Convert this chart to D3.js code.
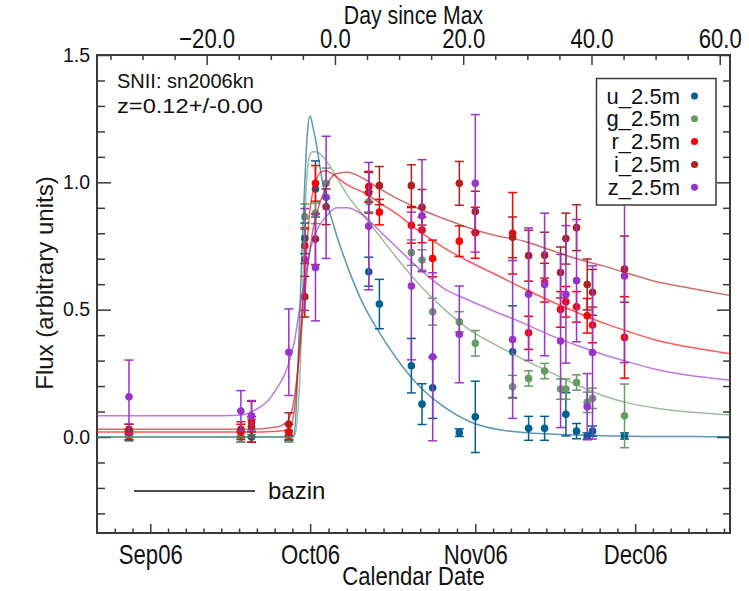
<!DOCTYPE html>
<html>
<head>
<meta charset="utf-8">
<script src="https://cdn.jsdelivr.net/npm/d3@7"></script>
<style>
  html, body { margin: 0; padding: 0; background: #ffffff; }
  svg { display: block; }
</style>
</head>
<body>
<svg id="chart" width="749" height="591"></svg>
<script>
// ---- observations (calendar date of each epoch) ----
const obsDates = ["2006-08-28","2006-09-18","2006-09-20","2006-09-27","2006-09-30","2006-10-02",
  "2006-10-04","2006-10-12","2006-10-14","2006-10-20","2006-10-22","2006-10-24","2006-10-29",
  "2006-11-01","2006-11-08","2006-11-11","2006-11-14","2006-11-17","2006-11-18","2006-11-20",
  "2006-11-22","2006-11-23","2006-11-29"];

const uFlux = [0.005,0.0,0.0,0.005,0.78,0.974,null,0.649,0.522,0.28,0.129,0.193,0.017,0.079,0.335,0.034,0.034,null,0.089,0.023,0.004,0.023,0.004];
const uErr  = [0.02,0.02,0.02,0.02,0.06,0.11,null,0.057,0.097,0.107,0.08,0.12,0.015,0.14,0.18,0.047,0.047,null,0.085,0.03,0.012,0.02,0.012];
const gFlux = [0.01,0.0,0.04,0.0,0.865,0.878,0.996,0.924,null,0.724,0.695,0.492,0.452,0.368,0.197,0.23,0.259,0.188,0.188,0.214,0.136,0.152,0.083];
const gErr  = [0.02,0.02,0.03,0.02,0.05,0.04,0.06,0.04,null,0.05,0.04,0.053,0.04,0.05,0.045,0.03,0.03,0.04,0.04,0.03,0.04,0.04,0.125];
const rFlux = [0.02,0.02,0.06,0.02,0.751,0.996,null,0.983,0.883,0.831,0.813,0.701,0.769,0.802,0.80,0.409,0.606,0.501,0.531,0.511,0.476,0.44,0.391];
const rErr  = [0.03,0.03,0.08,0.03,0.07,0.07,null,0.06,0.05,0.07,0.05,0.072,0.06,0.1,0.16,0.065,0.076,0.07,0.06,0.06,0.068,0.07,0.16];
const iFlux = [0.03,0.03,0.04,0.05,0.551,0.777,0.904,0.959,0.987,0.987,0.902,null,0.996,0.885,0.784,0.712,0.714,0.646,0.779,0.822,0.599,0.568,0.659];
const iErr  = [0.02,0.03,0.04,0.045,0.08,0.1,0.07,0.08,0.075,0.082,0.07,null,0.086,0.08,0.08,0.1,0.09,0.1,0.1,0.09,0.1,0.09,0.13];
const zFlux = [0.158,0.102,0.083,0.333,0.697,0.666,0.941,0.828,null,0.593,0.869,0.315,0.403,0.996,0.383,0.561,0.599,0.377,0.56,0.614,0.119,0.332,0.632];
const zErr  = [0.144,0.08,0.06,0.17,0.2,0.21,0.24,0.25,null,0.29,0.22,0.33,0.19,0.27,0.31,0.26,0.28,0.34,0.27,0.24,0.13,0.34,0.34];

// ---- bazin fit curves, sampled in days since 2006-09-01 ----
const fitDays = [-10,0,10,17,20,22,24,25,26,27,28,28.5,29,29.5,30,30.5,31,32,33,34,35,37,40,43,46,50,55,60,65,70,75,80,85,90,95,100,105,109];
const uFit = [0,0,0,0,0,0,0,0,0,0.01,0.45,0.75,1.0,1.2,1.26,1.22,1.17,1.04,0.93,0.86,0.79,0.67,0.52,0.41,0.315,0.21,0.12,0.06,0.03,0.018,0.012,0.008,0.005,0.003,0.002,0.002,0.001,0.001];
const gFit = [0,0,0,0,0,0,0,0,0,0.0,0.2,0.5,0.85,1.05,1.11,1.12,1.12,1.11,1.085,1.055,1.02,0.95,0.87,0.79,0.71,0.61,0.505,0.42,0.36,0.305,0.255,0.205,0.162,0.132,0.113,0.1,0.092,0.086];
const rFit = [0.02,0.02,0.02,0.02,0.02,0.021,0.023,0.025,0.03,0.1,0.35,0.5,0.65,0.78,0.9,0.96,1.0,1.04,1.045,1.035,1.02,0.99,0.96,0.92,0.88,0.815,0.745,0.687,0.636,0.584,0.535,0.49,0.448,0.412,0.38,0.357,0.34,0.326];
const iFit = [0.03,0.03,0.03,0.03,0.031,0.035,0.04,0.05,0.07,0.15,0.33,0.45,0.56,0.66,0.74,0.81,0.86,0.93,0.98,1.02,1.035,1.04,1.015,0.975,0.94,0.9,0.858,0.82,0.79,0.77,0.735,0.70,0.672,0.64,0.61,0.59,0.57,0.555];
const zFit = [0.083,0.083,0.083,0.085,0.11,0.14,0.2,0.236,0.29,0.37,0.5,0.56,0.62,0.68,0.734,0.77,0.8,0.84,0.865,0.89,0.9,0.9,0.87,0.81,0.75,0.67,0.585,0.535,0.49,0.447,0.4,0.36,0.324,0.293,0.265,0.245,0.232,0.223];

// ---- bands, axis ticks and labels ----
const bandNames  = ["u_2.5m","g_2.5m","r_2.5m","i_2.5m","z_2.5m"];
const bandColors = ["#00608f","#679a67","#ff0000","#b02020","#9933cc"];
const monthTicks = ["2006-09-01","2006-10-01","2006-11-01","2006-12-01"];
const monthLabels = ["Sep06","Oct06","Nov06","Dec06"];
const phaseTicks = [-20,0,20,40,60];
const fluxTicks = [0.0,0.5,1.0,1.5];
const infoLines = ["SNII: sn2006kn","z=0.12+/-0.00"];

const bands = [
  {flux:uFlux, err:uErr, fit:uFit},
  {flux:gFlux, err:gErr, fit:gFit},
  {flux:rFlux, err:rErr, fit:rFit},
  {flux:iFlux, err:iErr, fit:iFit},
  {flux:zFlux, err:zErr, fit:zFit}
];

const parse = d3.utcParse("%Y-%m-%d");
const DAY = 864e5;
const sep1 = parse("2006-09-01");
const fromDay = d => new Date(sep1.getTime() + d * DAY);

const P = {left: 97, right: 730, top: 55, bottom: 533};
const AXIS = "#3a3a3a";
const REG = "'Liberation Sans', Arial, sans-serif";
const CONDENSE = "scale(0.82,1)";   // narrow face for the date / phase axes

const x = d3.scaleUtc().domain([fromDay(-10.0), fromDay(108.8)]).range([P.left, P.right]);
const xPhase = d3.scaleLinear().domain([-37.1, 61.6]).range([P.left, P.right]);
const y = d3.scaleLinear().domain([-0.377, 1.5]).range([P.bottom, P.top]);

const svg = d3.select("#chart");

// plot-area clip
svg.append("defs").append("clipPath").attr("id", "plotclip")
  .append("rect").attr("x", P.left).attr("y", P.top)
  .attr("width", P.right - P.left).attr("height", P.bottom - P.top);

// ---- axes ----
function styleAxis(g, fontSize, narrow) {
  g.select(".domain").remove();
  g.selectAll(".tick line").attr("stroke", AXIS).attr("stroke-width", 1.5);
  const t = g.selectAll(".tick text").attr("fill", "#111").attr("font-family", REG).attr("font-size", fontSize);
  if (narrow) t.attr("transform", CONDENSE);
}

// bottom: month ticks with labels, minor ticks dividing each month into nine
const monthDates = monthTicks.map(parse);
const minorDates = [];
const step0 = (monthDates[1] - monthDates[0]) / 9;
for (let k = 1; k <= 3; k++) minorDates.push(new Date(monthDates[0].getTime() - k * step0));
for (let m = 0; m < monthDates.length - 1; m++) {
  const st = (monthDates[m + 1] - monthDates[m]) / 9;
  for (let k = 1; k < 9; k++) minorDates.push(new Date(monthDates[m].getTime() + k * st));
}
const stepN = (monthDates[3] - monthDates[2]) / 9;
for (let k = 1; k <= 6; k++) minorDates.push(new Date(monthDates[3].getTime() + k * stepN));
const minorIn = minorDates.filter(d => x(d) > P.left + 1 && x(d) < P.right - 1);

svg.append("g").attr("transform", `translate(0,${P.bottom})`)
  .call(d3.axisBottom(x).tickValues(minorIn).tickSize(-4.5).tickFormat(""))
  .call(g => styleAxis(g, 27, true));
svg.append("g").attr("transform", `translate(0,${P.bottom})`)
  .call(d3.axisBottom(x).tickValues(monthDates).tickSize(-9).tickPadding(12)
        .tickFormat((d, i) => monthLabels[i]))
  .call(g => styleAxis(g, 27, true));

// top: phase axis
const phaseMinor = d3.range(-35, 61, 5).filter(v => v % 20 !== 0);
svg.append("g").attr("transform", `translate(0,${P.top})`)
  .call(d3.axisTop(xPhase).tickValues(phaseMinor).tickSize(-5).tickFormat(""))
  .call(g => styleAxis(g, 27, true));
svg.append("g").attr("transform", `translate(0,${P.top})`)
  .call(d3.axisTop(xPhase).tickValues(phaseTicks).tickSize(-10).tickPadding(7)
        .tickFormat(v => (v < 0 ? "\u2212" : "") + Math.abs(v).toFixed(1)))
  .call(g => styleAxis(g, 27, true));

// left and right: flux
const fluxMinor = d3.range(-3, 15).map(v => v / 10).filter(v => Math.abs(v * 2 - Math.round(v * 2)) > 1e-6);
svg.append("g").attr("transform", `translate(${P.left},0)`)
  .call(d3.axisLeft(y).tickValues(fluxMinor).tickSize(-8).tickFormat(""))
  .call(g => styleAxis(g, 19.5, false));
svg.append("g").attr("transform", `translate(${P.left},0)`)
  .call(d3.axisLeft(y).tickValues(fluxTicks).tickSize(-14).tickPadding(7)
        .tickFormat(d3.format(".1f")))
  .call(g => styleAxis(g, 19.5, false));
svg.append("g").attr("transform", `translate(${P.right},0)`)
  .call(d3.axisRight(y).tickValues(fluxMinor).tickSize(-7).tickFormat(""))
  .call(g => styleAxis(g, 19.5, false));
svg.append("g").attr("transform", `translate(${P.right},0)`)
  .call(d3.axisRight(y).tickValues(fluxTicks).tickSize(-13).tickFormat(""))
  .call(g => styleAxis(g, 19.5, false));

// frame
svg.append("rect").attr("x", P.left).attr("y", P.top)
  .attr("width", P.right - P.left).attr("height", P.bottom - P.top)
  .attr("fill", "none").attr("stroke", AXIS).attr("stroke-width", 2);

// axis titles
function narrowTitle(cx, by, size, label) {
  svg.append("g").attr("transform", `translate(${cx},${by})`)
    .append("text").attr("transform", "scale(0.85,1)").attr("text-anchor", "middle")
    .attr("font-family", REG).attr("font-size", size).attr("fill", "#111").text(label);
}
narrowTitle((P.left + P.right) / 2, 585, 26, "Calendar Date");
narrowTitle((P.left + P.right) / 2, 24, 25, "Day since Max");
svg.append("text").attr("transform", `translate(53,283) rotate(-90)`)
  .attr("text-anchor", "middle").attr("font-family", REG).attr("font-size", 24)
  .attr("fill", "#1a1a1a").text("Flux (arbitrary units)");

// ---- data ----
const plot = svg.append("g").attr("clip-path", "url(#plotclip)");
const obsParsed = obsDates.map(parse);

bands.forEach((b, bi) => {
  const pts = obsParsed.map((d, k) => ({d, f: b.flux[k], e: b.err[k]})).filter(p => p.f !== null);
  const g = plot.append("g");
  const col = bandColors[bi];
  pts.forEach(p => {
    const cx = x(p.d), y0 = y(p.f - p.e), y1 = y(p.f + p.e);
    g.append("line").attr("x1", cx).attr("x2", cx).attr("y1", y0).attr("y2", y1)
      .attr("stroke", col).attr("stroke-width", 1.5);
    [y0, y1].forEach(yy => g.append("line").attr("x1", cx - 4.5).attr("x2", cx + 4.5)
      .attr("y1", yy).attr("y2", yy).attr("stroke", col).attr("stroke-width", 1.5));
  });
  g.selectAll("circle").data(pts).join("circle")
    .attr("cx", p => x(p.d)).attr("cy", p => y(p.f)).attr("r", 3.8).attr("fill", col);
});

const line = d3.line().x(p => x(p.d)).y(p => y(p.f)).curve(d3.curveMonotoneX);
bands.forEach((b, bi) => {
  const pts = fitDays.map((d, k) => ({d: fromDay(d), f: b.fit[k]}));
  plot.append("path").attr("d", line(pts)).attr("fill", "none")
    .attr("stroke", bandColors[bi]).attr("stroke-opacity", 0.65).attr("stroke-width", 1.5);
});

// ---- annotations ----
const infoWidths = [null, 146];
infoLines.forEach((t, k) => {
  const txt = svg.append("text").attr("x", 117).attr("y", 88 + k * 25)
    .attr("font-family", REG).attr("font-size", 20).attr("fill", "#111").text(t);
  if (infoWidths[k]) txt.attr("textLength", infoWidths[k]).attr("lengthAdjust", "spacingAndGlyphs");
});

const legend = svg.append("g");
legend.append("rect").attr("x", 596.5).attr("y", 78.5).attr("width", 119.5).attr("height", 126.5)
  .attr("fill", "#fff").attr("stroke", AXIS).attr("stroke-width", 1.5);
bandNames.forEach((n, k) => {
  const cy = 96 + k * 22.8;
  legend.append("text").attr("x", 680).attr("y", cy + 7.5).attr("text-anchor", "end")
    .attr("font-family", REG).attr("font-size", 22).attr("fill", "#111").text(n);
  legend.append("circle").attr("cx", 694.5).attr("cy", cy).attr("r", 3.5).attr("fill", bandColors[k]);
});

svg.append("line").attr("x1", 134).attr("x2", 255).attr("y1", 491).attr("y2", 491)
  .attr("stroke", "#111").attr("stroke-width", 1.5);
svg.append("text").attr("x", 268).attr("y", 499).attr("font-family", REG).attr("font-size", 24)
  .attr("fill", "#111").text("bazin");
</script>
</body>
</html>
